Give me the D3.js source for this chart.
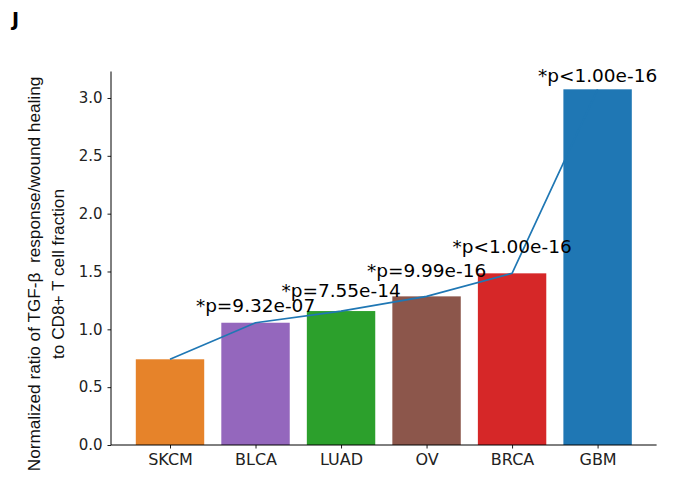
<!DOCTYPE html>
<html>
<head>
<meta charset="utf-8">
<script src="https://cdn.jsdelivr.net/npm/d3@7"></script>
<style>
  body { margin: 0; background: #fff; }
  text { font-family: "DejaVu Sans", Verdana, sans-serif; }
</style>
</head>
<body>
<svg id="chart" width="677" height="484"></svg>
<script>
// Cancer types, ordered by ratio
const categories = ["SKCM", "BLCA", "LUAD", "OV", "BRCA", "GBM"];
// Normalized ratio of TGF-β response/wound healing to CD8+ T cell fraction
const ratios = [0.741, 1.057, 1.158, 1.285, 1.484, 3.075];
// Significance notes (vs SKCM) and the ratio level each note sits at
const pLabels = [null, "*p=9.32e-07", "*p=7.55e-14", "*p=9.99e-16", "*p<1.00e-16", "*p<1.00e-16"];
const pLabelLevels = [null, 1.15, 1.28, 1.45, 1.66, 3.14];
const barColors = ["#e6832a", "#9467bd", "#2ca02c", "#8c564b", "#d62728", "#1f77b4"];
const yTicks = [0.0, 0.5, 1.0, 1.5, 2.0, 2.5, 3.0];

const svg = d3.select("#chart");
const plotLeft = 111, plotRight = 656.6, plotBottom = 445, plotTop = 71.5;

// Positional x scale (bar index), with matplotlib-like margins
const x = d3.scaleLinear().domain([-0.69, 5.69]).range([plotLeft, plotRight]);
const y = d3.scaleLinear().domain([0, 3.229]).range([plotBottom, plotTop]);
const barW = x(0.4) - x(-0.4);

// Bars
svg.append("g").selectAll("rect")
  .data(categories)
  .join("rect")
  .attr("x", (d, i) => x(i) - barW / 2)
  .attr("width", barW)
  .attr("y", (d, i) => y(ratios[i]))
  .attr("height", (d, i) => y(0) - y(ratios[i]))
  .attr("fill", (d, i) => barColors[i]);

// Trend line through bar tops
const line = d3.line().x((d, i) => x(i)).y(d => y(d));
svg.append("path")
  .datum(ratios)
  .attr("d", line)
  .attr("fill", "none")
  .attr("stroke", "#1f77b4")
  .attr("stroke-width", 1.7);

// p-value annotations
svg.append("g").selectAll("text")
  .data(categories.map((c, i) => ({ i, label: pLabels[i], level: pLabelLevels[i] })).filter(d => d.label))
  .join("text")
  .attr("x", d => x(d.i))
  .attr("y", d => y(d.level))
  .attr("text-anchor", "middle")
  .attr("font-size", 18.5)
  .attr("fill", "#000")
  .text(d => d.label);

// Y axis
const yAxis = d3.axisLeft(y).tickValues(yTicks).tickFormat(d3.format(".1f")).tickSize(3.5).tickPadding(5);
const gy = svg.append("g").attr("transform", `translate(${plotLeft},0)`).call(yAxis);
gy.select(".domain").attr("d", `M0,${plotBottom}V${plotTop}`).attr("stroke", "#000").attr("stroke-width", 1);
gy.selectAll(".tick line").attr("stroke", "#000").attr("stroke-width", 0.9);
gy.selectAll(".tick text").attr("font-size", 15).attr("fill", "#222").attr("font-family", "DejaVu Sans");

// X axis
const xAxis = d3.axisBottom(x).tickValues(d3.range(categories.length)).tickFormat(i => categories[i]).tickSize(3.5).tickPadding(5);
const gx = svg.append("g").attr("transform", `translate(0,${plotBottom})`).call(xAxis);
gx.select(".domain").attr("d", `M${plotLeft},0H${plotRight}`).attr("stroke", "#000").attr("stroke-width", 1);
gx.selectAll(".tick line").attr("stroke", "#000").attr("stroke-width", 0.9);
gx.selectAll(".tick text").attr("font-size", 16).attr("fill", "#222").attr("font-family", "DejaVu Sans");

// Y axis title (two lines)
const yTitle = svg.append("text")
  .attr("transform", "translate(40,274) rotate(-90)")
  .attr("text-anchor", "middle")
  .attr("font-size", 17.2)
  .style("font-family", "'Liberation Sans', Arial, sans-serif")
  .style("white-space", "pre")
  .attr("fill", "#111");
yTitle.append("tspan").attr("x", 0).attr("dy", 0).text("Normalized ratio of TGF-β  response/wound healing");
yTitle.append("tspan").attr("x", 0).attr("dy", 23.5).text("to CD8+ T cell fraction");

// Panel letter
svg.append("text")
  .attr("x", 12).attr("y", 26)
  .attr("font-size", 19).attr("font-weight", "bold")
  .text("J");
</script>
</body>
</html>
